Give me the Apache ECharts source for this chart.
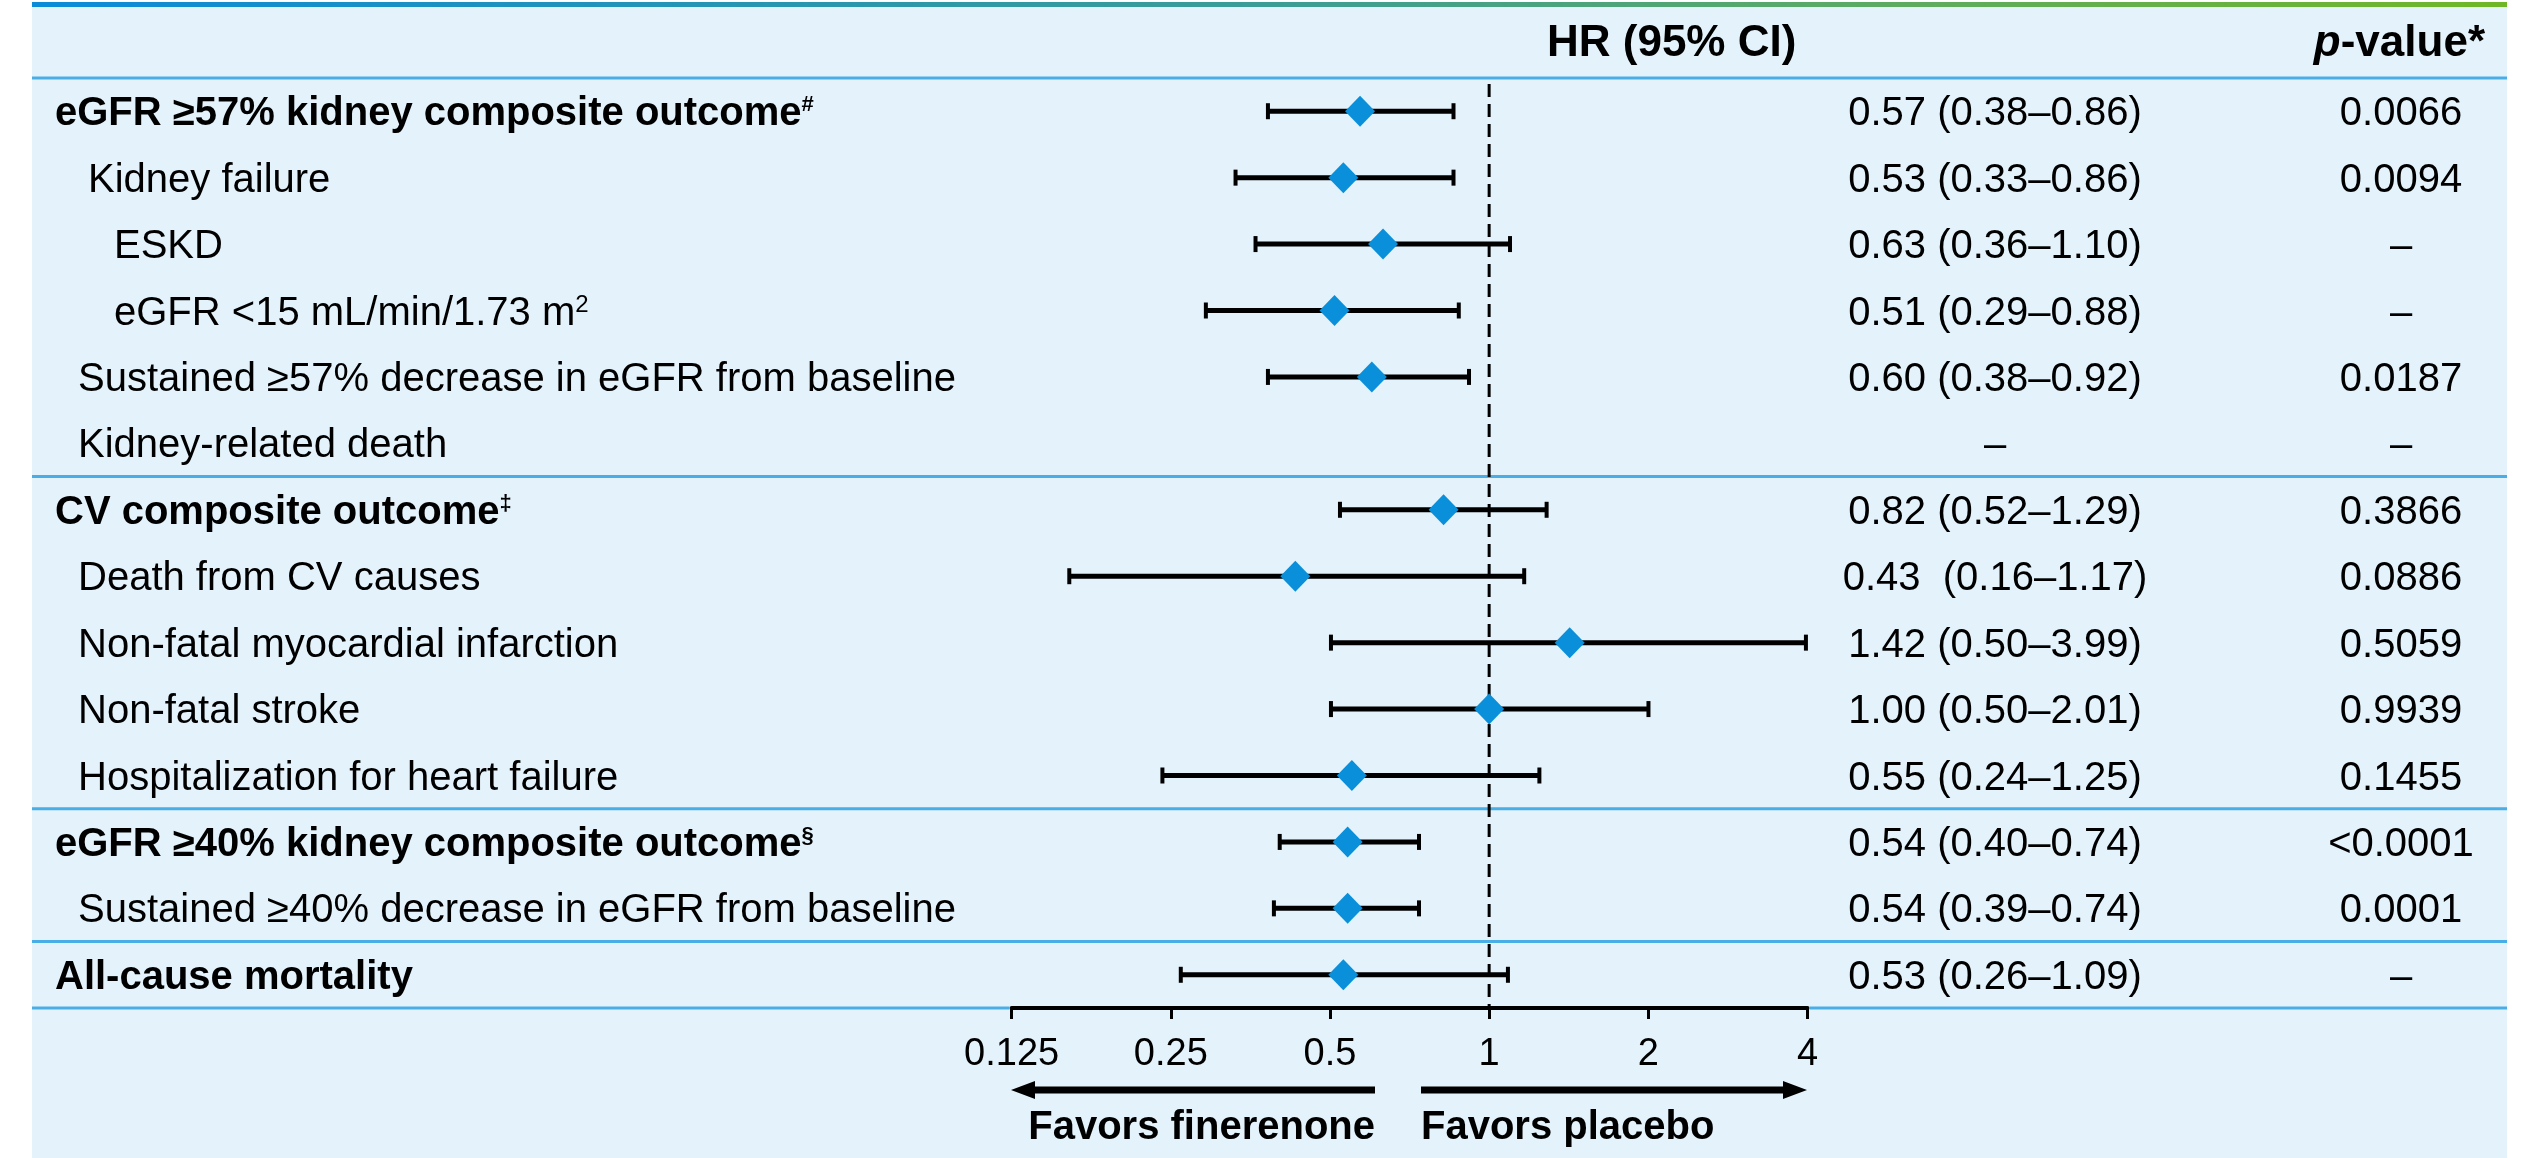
<!DOCTYPE html>
<html>
<head>
<meta charset="utf-8">
<script src="https://cdn.jsdelivr.net/npm/echarts@6/dist/echarts.min.js"></script>
<style>
html,body{margin:0;padding:0;background:#ffffff;}
#chart{width:2521px;height:1158px;}
</style>
</head>
<body>
<div id="chart"></div>
<script>
// ---------------- DATA ----------------
const rowLabels = [
  'eGFR ≥57% kidney composite outcome',
  'Kidney failure',
  'ESKD',
  'eGFR <15 mL/min/1.73 m',
  'Sustained ≥57% decrease in eGFR from baseline',
  'Kidney-related death',
  'CV composite outcome',
  'Death from CV causes',
  'Non-fatal myocardial infarction',
  'Non-fatal stroke',
  'Hospitalization for heart failure',
  'eGFR ≥40% kidney composite outcome',
  'Sustained ≥40% decrease in eGFR from baseline',
  'All-cause mortality'
];
const rowSup = ['#', '', '', '2', '', '', '‡', '', '', '', '', '§', '', ''];
const rowLevel = [0, 2, 3, 3, 1, 1, 0, 1, 1, 1, 1, 0, 1, 0];
const hrValues = [0.57, 0.53, 0.63, 0.51, 0.60, null, 0.82, 0.43, 1.42, 1.00, 0.55, 0.54, 0.54, 0.53];
const ciLower  = [0.38, 0.33, 0.36, 0.29, 0.38, null, 0.52, 0.16, 0.50, 0.50, 0.24, 0.40, 0.39, 0.26];
const ciUpper  = [0.86, 0.86, 1.10, 0.88, 0.92, null, 1.29, 1.17, 3.99, 2.01, 1.25, 0.74, 0.74, 1.09];
const hrLabels = [
  '0.57 (0.38–0.86)', '0.53 (0.33–0.86)', '0.63 (0.36–1.10)', '0.51 (0.29–0.88)',
  '0.60 (0.38–0.92)', '–', '0.82 (0.52–1.29)', '0.43  (0.16–1.17)', '1.42 (0.50–3.99)',
  '1.00 (0.50–2.01)', '0.55 (0.24–1.25)', '0.54 (0.40–0.74)', '0.54 (0.39–0.74)', '0.53 (0.26–1.09)'
];
const pLabels = ['0.0066', '0.0094', '–', '–', '0.0187', '–', '0.3866', '0.0886', '0.5059', '0.9939', '0.1455', '<0.0001', '0.0001', '–'];
const separatorAfter = [5, 10, 12];
const tickValues = [0.125, 0.25, 0.5, 1, 2, 4];
const tickLabels = ['0.125', '0.25', '0.5', '1', '2', '4'];
const referenceHR = 1;

// ---------------- STYLE / LAYOUT ----------------
const FONT = "'Liberation Sans', Arial, Helvetica, sans-serif";
const BG = '#e4f3fb';
const SEP = '#4aaee6';
const DIAMOND = '#0a8fdb';
const levelX = [55, 78, 88, 114];
const HR_X = 1995;
const P_X = 2401;
const TEXT_DY = 3;
const BG_LEFT = 32, BG_RIGHT = 2507;

const rich = {
  b:  {fontFamily: FONT, fontSize: 40, fontWeight: 'bold', lineHeight: 40},
  bs: {fontFamily: FONT, fontSize: 22, fontWeight: 'bold', lineHeight: 26, verticalAlign: 'top'},
  r:  {fontFamily: FONT, fontSize: 40, fontWeight: 'normal', lineHeight: 40},
  rs: {fontFamily: FONT, fontSize: 24, fontWeight: 'normal', lineHeight: 28, verticalAlign: 'top'}
};

const chart = echarts.init(document.getElementById('chart'), null, {renderer: 'canvas'});

const scatterData = [];
const ciData = [];
hrValues.forEach((v, i) => {
  if (v != null) {
    scatterData.push([v, i]);
    ciData.push([ciLower[i], ciUpper[i], i]);
  }
});

function tickFormatter(v) {
  let best = 0;
  for (let k = 1; k < tickValues.length; k++) {
    if (Math.abs(Math.log2(tickValues[k]) - Math.log2(v)) < Math.abs(Math.log2(tickValues[best]) - Math.log2(v))) best = k;
  }
  return tickLabels[best];
}

function rowY(api, i) {
  return api.coord([referenceHR, i])[1];
}
function bandH(api) {
  return rowY(api, 1) - rowY(api, 0);
}

const option = {
  animation: false,
  backgroundColor: '#ffffff',
  textStyle: {fontFamily: FONT},
  grid: {left: 1011.6, right: 713.5, top: 78, bottom: 150, containLabel: false, outerBoundsMode: 'none'},
  xAxis: {
    type: 'log',
    logBase: 2,
    min: tickValues[0],
    max: tickValues[tickValues.length - 1],
    splitNumber: 5,
    axisLine: {show: true, lineStyle: {color: '#000', width: 4}},
    axisTick: {show: true, length: 11, lineStyle: {color: '#000', width: 3}},
    axisLabel: {show: true, color: '#000', fontSize: 38, fontFamily: FONT, margin: 28, formatter: tickFormatter, showMinLabel: true, showMaxLabel: true},
    splitLine: {show: false},
    minorTick: {show: false}
  },
  yAxis: {
    type: 'category',
    data: rowLabels,
    inverse: true,
    show: false
  },
  graphic: {
    elements: [
      {type: 'rect', z: -10, shape: {x: BG_LEFT, y: 7, width: BG_RIGHT - BG_LEFT, height: 1158 - 7}, style: {fill: BG}},
      {type: 'rect', z: -9, shape: {x: BG_LEFT, y: 2, width: BG_RIGHT - BG_LEFT, height: 5},
        style: {fill: new echarts.graphic.LinearGradient(0, 0, 1, 0, [
          {offset: 0, color: '#0b8bd9'},
          {offset: 0.5, color: '#3c9d96'},
          {offset: 0.75, color: '#5dab62'},
          {offset: 1, color: '#70b726'}
        ])}},
      {type: 'text', z: 10, x: 1547, y: 44, style: {text: 'HR (95% CI)', fontFamily: FONT, fontSize: 44, fontWeight: 'bold', fill: '#000', align: 'left', verticalAlign: 'middle'}},
      {type: 'text', z: 10, x: 2485, y: 44, style: {text: '{i|p}{b|-value*}', align: 'right', verticalAlign: 'middle', fill: '#000',
        rich: {
          i: {fontFamily: FONT, fontSize: 44, fontWeight: 'bold', fontStyle: 'italic'},
          b: {fontFamily: FONT, fontSize: 44, fontWeight: 'bold'}
        }}},
      {type: 'polygon', z: 10, shape: {points: [[1011, 1090], [1035, 1081], [1035, 1086.5], [1375, 1086.5], [1375, 1093.5], [1035, 1093.5], [1035, 1099]]}, style: {fill: '#000'}},
      {type: 'polygon', z: 10, shape: {points: [[1807, 1090], [1783, 1081], [1783, 1086.5], [1421, 1086.5], [1421, 1093.5], [1783, 1093.5], [1783, 1099]]}, style: {fill: '#000'}},
      {type: 'text', z: 10, x: 1375, y: 1128, style: {text: 'Favors finerenone', fontFamily: FONT, fontSize: 40, fontWeight: 'bold', fill: '#000', align: 'right', verticalAlign: 'middle'}},
      {type: 'text', z: 10, x: 1421, y: 1128, style: {text: 'Favors placebo', fontFamily: FONT, fontSize: 40, fontWeight: 'bold', fill: '#000', align: 'left', verticalAlign: 'middle'}}
    ]
  },
  series: [
    {
      // row texts, HR column, p column, separators
      type: 'custom',
      coordinateSystem: 'cartesian2d',
      silent: true,
      clip: false,
      z: 1,
      encode: {x: 0, y: 1},
      data: rowLabels.map((_, i) => [referenceHR, i]),
      renderItem: function (params, api) {
        const i = params.dataIndex;
        const y = rowY(api, i);
        const ty = y + TEXT_DY;
        const band = bandH(api);
        const bold = rowLevel[i] === 0;
        let txt = '{' + (bold ? 'b' : 'r') + '|' + rowLabels[i] + '}';
        if (rowSup[i]) txt += '{' + (bold ? 'bs' : 'rs') + '|' + rowSup[i] + '}';
        const children = [
          {type: 'text', x: levelX[rowLevel[i]], y: ty, style: {text: txt, rich: rich, fill: '#000', align: 'left', verticalAlign: 'middle'}},
          {type: 'text', x: HR_X, y: ty, style: {text: hrLabels[i], fontFamily: FONT, fontSize: 40, fill: '#000', align: 'center', verticalAlign: 'middle'}},
          {type: 'text', x: P_X, y: ty, style: {text: pLabels[i], fontFamily: FONT, fontSize: 40, fill: '#000', align: 'center', verticalAlign: 'middle'}}
        ];
        const sepStyle = {stroke: SEP, lineWidth: 3};
        if (i === 0) {
          const ly = y - band / 2;
          children.push({type: 'line', shape: {x1: BG_LEFT, y1: ly, x2: BG_RIGHT, y2: ly}, style: sepStyle});
        }
        if (separatorAfter.indexOf(i) >= 0) {
          const ly = y + band / 2;
          children.push({type: 'line', shape: {x1: BG_LEFT, y1: ly, x2: BG_RIGHT, y2: ly}, style: sepStyle});
        }
        if (i === rowLabels.length - 1) {
          // bottom rule, interrupted where the black x axis lies
          const ly = y + band / 2;
          const ax0 = api.coord([tickValues[0], i])[0];
          const ax1 = api.coord([tickValues[tickValues.length - 1], i])[0];
          children.push({type: 'line', shape: {x1: BG_LEFT, y1: ly, x2: ax0 - 2, y2: ly}, style: sepStyle});
          children.push({type: 'line', shape: {x1: ax1 + 2, y1: ly, x2: BG_RIGHT, y2: ly}, style: sepStyle});
        }
        return {type: 'group', children: children};
      }
    },
    {
      // confidence intervals + reference line at HR = 1
      type: 'custom',
      coordinateSystem: 'cartesian2d',
      silent: true,
      clip: false,
      z: 2,
      encode: {x: [0, 1], y: 2},
      data: ciData,
      renderItem: function (params, api) {
        const lo = api.coord([api.value(0), api.value(2)]);
        const hi = api.coord([api.value(1), api.value(2)]);
        const st = {stroke: '#000', lineWidth: 5};
        const children = [
          {type: 'line', shape: {x1: lo[0], y1: lo[1], x2: hi[0], y2: hi[1]}, style: st},
          {type: 'line', shape: {x1: lo[0] + 1, y1: lo[1] - 8, x2: lo[0] + 1, y2: lo[1] + 8}, style: {stroke: '#000', lineWidth: 4}},
          {type: 'line', shape: {x1: hi[0] - 1, y1: hi[1] - 8, x2: hi[0] - 1, y2: hi[1] + 8}, style: {stroke: '#000', lineWidth: 4}}
        ];
        if (params.dataIndex === 0) {
          const band = bandH(api);
          const rx = api.coord([referenceHR, 0])[0];
          const yTop = rowY(api, 0) - band / 2 + 6;
          const yBot = rowY(api, rowLabels.length - 1) + band / 2;
          children.push({type: 'line', shape: {x1: rx, y1: yTop, x2: rx, y2: yBot},
            style: {stroke: '#000', lineWidth: 3, lineDash: [13, 7]}});
        }
        return {type: 'group', children: children};
      }
    },
    {
      type: 'scatter',
      symbol: 'diamond',
      symbolSize: [30, 31],
      z: 3,
      silent: true,
      itemStyle: {color: DIAMOND, opacity: 1},
      data: scatterData
    }
  ]
};
chart.setOption(option);
</script>
</body>
</html>
